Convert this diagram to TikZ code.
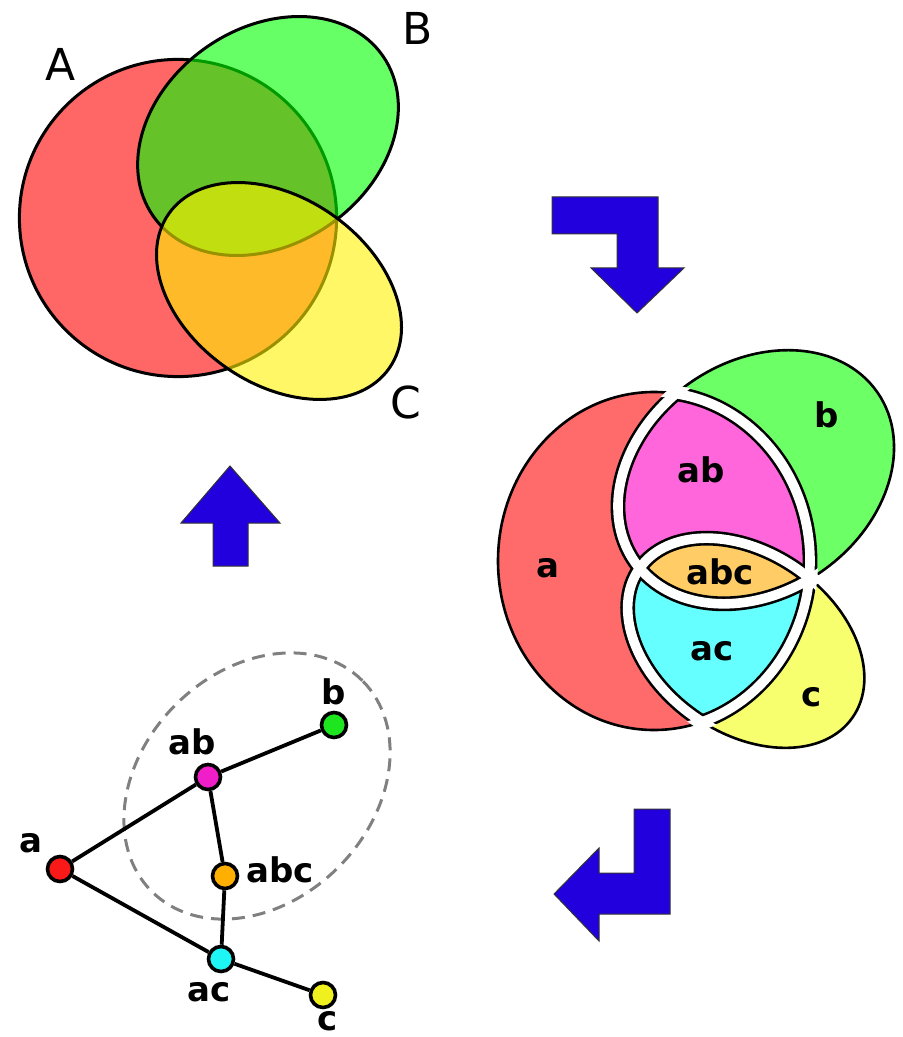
\documentclass[tikz,border=0pt]{standalone}
\usepackage{fontspec}
\setmainfont{DejaVu Sans}
\usepackage{tikz}

\definecolor{arrowblue}{RGB}{34,0,221}
\definecolor{regA}{RGB}{255,107,107}
\definecolor{regB}{RGB}{108,255,102}
\definecolor{regC}{RGB}{248,255,110}
\definecolor{regAB}{RGB}{255,102,220}
\definecolor{regAC}{RGB}{102,255,255}
\definecolor{regABC}{RGB}{255,204,102}
\definecolor{dotA}{RGB}{250,25,25}
\definecolor{dotB}{RGB}{30,230,30}
\definecolor{dotC}{RGB}{240,240,30}
\definecolor{dotAB}{RGB}{240,30,200}
\definecolor{dotAC}{RGB}{30,245,245}
\definecolor{dotABC}{RGB}{255,175,0}

% the three sets of the split diagram, #1 = extra radius
\newcommand{\partA}[1]{(654,561) circle[x radius=78pt+#1, y radius=84.5pt+#1]}
\newcommand{\partB}[1]{(756,477) circle[x radius=74pt+#1, y radius=57.5pt+#1, rotate=35]}
\newcommand{\partC}[1]{(746,643) circle[x radius=65pt+#1, y radius=45pt+#1, rotate=-35]}

\begin{document}
\begin{tikzpicture}[x=0.5pt, y=-0.5pt,
  bigarrow/.style={fill=arrowblue, draw=black!80, line width=0.5pt},
  setname/.style={font=\fontsize{22}{22}\selectfont},
  partname/.style={font=\bfseries\fontsize{17}{17}\selectfont},
  vertex/.style={circle, draw, line width=1.8pt, minimum size=12.5pt, inner sep=0pt},
  link/.style={line width=1.9pt}]
\useasboundingbox (0,0) rectangle (903,1037);

% Venn diagram
\draw[line width=1.5pt, fill=red, fill opacity=0.6] (178,218) circle[radius=79.3pt];
\draw[line width=1.5pt, fill=green, fill opacity=0.6] (268,136) circle[x radius=70pt, y radius=54pt, rotate=35];
\draw[line width=1.5pt, fill=yellow, fill opacity=0.6] (279,291) circle[x radius=67.3pt, y radius=46.5pt, rotate=-35];
\node[setname] (labA) at (61,64) {A};
\node[setname] (labB) at (418,28) {B};
\node[setname] (labC) at (406,402) {C};

% arrows
\draw[bigarrow] (552,197) -- (658,197) -- (658,268) -- (684,268) -- (637,313) -- (591,268) -- (617,268) -- (617,234) -- (552,234) -- cycle;
\draw[bigarrow] (634,809) -- (670,809) -- (670,914) -- (599,914) -- (599,941) -- (554,894) -- (599,848) -- (599,873) -- (634,873) -- cycle;
\draw[bigarrow] (230,466) -- (280,523) -- (248,523) -- (248,566) -- (213,566) -- (213,523) -- (181,523) -- cycle;

% split regions
\fill[regA] \partA{0pt};
\fill[regB] \partB{0pt};
\fill[regC] \partC{0pt};
\begin{scope}
  \clip \partA{0pt};
  \fill[regAB] \partB{0pt};
  \fill[regAC] \partC{0pt};
  \clip \partB{0pt};
  \fill[regABC] \partC{0pt};
\end{scope}
\begin{scope}
  \clip \partB{0pt} \partC{0pt};
  \draw[line width=7.4pt] \partA{0pt};
\end{scope}
\begin{scope}
  \clip \partA{0pt} \partC{0pt};
  \draw[line width=7.4pt] \partB{0pt};
\end{scope}
\begin{scope}
  \clip \partA{0pt} \partB{0pt};
  \draw[line width=7.4pt] \partC{0pt};
\end{scope}
\draw[line width=1.3pt] \partA{0pt} \partB{0pt} \partC{0pt};
\begin{scope}
  \clip \partB{4pt} \partC{4pt};
  \draw[white, line width=4.8pt] \partA{0pt};
\end{scope}
\begin{scope}
  \clip \partA{4pt} \partC{4pt};
  \draw[white, line width=4.8pt] \partB{0pt};
\end{scope}
\begin{scope}
  \clip \partA{4pt} \partB{4pt};
  \draw[white, line width=4.8pt] \partC{0pt};
\end{scope}
\node[partname] (ra) at (548,568) {a};
\node[partname] (rb) at (827,415) {b};
\node[partname] (rab) at (701,470) {ab};
\node[partname] (rabc) at (720,572) {abc};
\node[partname] (rac) at (712,651) {ac};
\node[partname] (rc) at (812,697) {c};

% graph
\draw[gray, line width=1.5pt, dash pattern=on 6.5pt off 4pt] (257,786) circle[x radius=74.5pt, y radius=57.5pt, rotate=45];
\node[vertex, fill=dotA] (a) at (60,869) {};
\node[vertex, fill=dotAB] (ab) at (208,777) {};
\node[vertex, fill=dotB] (b) at (334,725) {};
\node[vertex, fill=dotABC] (abc) at (225,876) {};
\node[vertex, fill=dotAC] (ac) at (221,959) {};
\node[vertex, fill=dotC] (c) at (323,995) {};
\draw[link] (a) -- (ab) -- (b);
\draw[link] (ab) -- (abc) -- (ac) -- (c);
\draw[link] (a) -- (ac);
\node[partname] (ga) at (31,843) {a};
\node[partname] (gab) at (192,742) {ab};
\node[partname] (gb) at (334,692) {b};
\node[partname] (gabc) at (280,870) {abc};
\node[partname] (gac) at (209,992) {ac};
\node[partname] (gc) at (328,1021) {c};
\end{tikzpicture}
\end{document}
